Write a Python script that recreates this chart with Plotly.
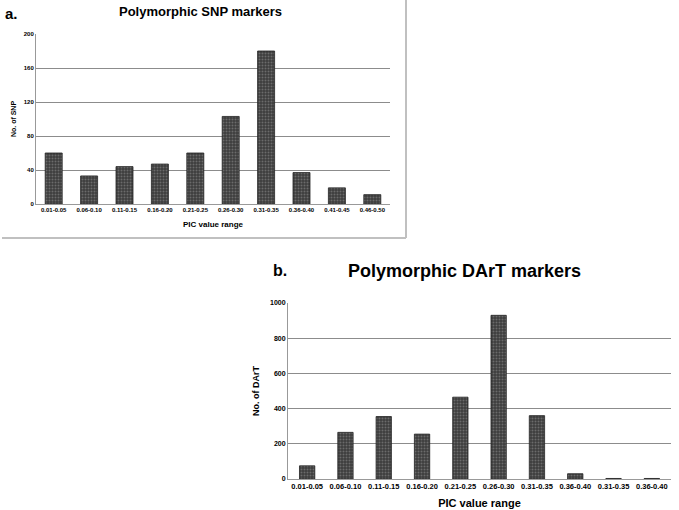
import plotly.graph_objects as go

W, H = 679, 510

snp_labels = ["0.01-0.05", "0.06-0.10", "0.11-0.15", "0.16-0.20", "0.21-0.25",
              "0.26-0.30", "0.31-0.35", "0.36-0.40", "0.41-0.45", "0.46-0.50"]
snp_values = [60, 33, 44, 47, 60, 103, 180, 37, 19, 11]

dart_labels = ["0.01-0.05", "0.06-0.10", "0.11-0.15", "0.16-0.20", "0.21-0.25",
               "0.26-0.30", "0.31-0.35", "0.36-0.40", "0.31-0.35", "0.36-0.40"]
dart_values = [75, 265, 355, 255, 465, 930, 360, 30, 3, 3]

snp_yticks = [0, 40, 80, 120, 160, 200]
dart_yticks = [0, 200, 400, 600, 800, 1000]

FONT = "Liberation Sans"

def px_x(p):
    return p / W

def px_y(p):
    return 1 - p / H

bar_style = dict(
    color="#3c3c3c",
    line=dict(color="#222222", width=0.8),
    pattern=dict(shape=".", fgcolor="#9a9a9a", bgcolor="#3c3c3c", size=3, solidity=0.35),
)

fig = go.Figure()
fig.add_trace(go.Bar(x=list(range(len(snp_values))), y=snp_values, width=0.48,
                     marker=bar_style, xaxis="x", yaxis="y", showlegend=False))
fig.add_trace(go.Bar(x=list(range(len(dart_values))), y=dart_values, width=0.4,
                     marker=bar_style, xaxis="x2", yaxis="y2", showlegend=False))

axis_common = dict(showgrid=False, zeroline=False, ticks="", fixedrange=True, automargin=False)

fig.update_layout(
    width=W, height=H,
    margin=dict(l=0, r=0, t=0, b=0),
    paper_bgcolor="white", plot_bgcolor="white",
    font=dict(family=FONT, color="black"),
    xaxis=dict(domain=[px_x(36), px_x(390)], anchor="y",
               range=[-0.5, len(snp_values) - 0.5],
               tickvals=list(range(len(snp_labels))), ticktext=snp_labels,
               tickfont=dict(size=6, family=FONT, weight="bold", color="black"), tickangle=0,
               showline=True, linecolor="#999999", linewidth=1,
               title=dict(text="<b>PIC value range</b>", font=dict(size=8), standoff=9),
               **axis_common),
    yaxis=dict(domain=[px_y(204), px_y(34)], anchor="x", range=[0, 200],
               tickvals=snp_yticks, tickfont=dict(size=6, family=FONT, weight="bold", color="black"),
               showgrid=True, gridcolor="#8c8c8c", gridwidth=1,
               showline=True, linecolor="#999999", linewidth=1,
               title=dict(text="<b>No. of SNP</b>", font=dict(size=7), standoff=6),
               zeroline=False, ticks="", fixedrange=True, automargin=False),
    xaxis2=dict(domain=[px_x(288), px_x(671)], anchor="y2",
                range=[-0.5, len(dart_values) - 0.5],
                tickvals=list(range(len(dart_labels))), ticktext=dart_labels,
                tickfont=dict(size=7.5, family=FONT, weight="bold", color="black"), tickangle=0,
                showline=True, linecolor="#999999", linewidth=1,
                title=dict(text="<b>PIC value range</b>", font=dict(size=11), standoff=9),
                **axis_common),
    yaxis2=dict(domain=[px_y(479), px_y(303)], anchor="x2", range=[0, 1000],
                tickvals=dart_yticks, tickfont=dict(size=7, family=FONT, weight="bold", color="black"),
                showgrid=True, gridcolor="#8c8c8c", gridwidth=1,
                showline=True, linecolor="#999999", linewidth=1,
                title=dict(text="<b>No. of DArT</b>", font=dict(size=9), standoff=8),
                zeroline=False, ticks="", fixedrange=True, automargin=False),
    bargap=0.5,
)

# panel a frame: right and bottom edges
fig.add_shape(type="line", xref="paper", yref="paper",
              x0=px_x(406), x1=px_x(406), y0=px_y(238), y1=1,
              line=dict(color="#c0c0c0", width=2))
fig.add_shape(type="line", xref="paper", yref="paper",
              x0=px_x(2), x1=px_x(406), y0=px_y(238), y1=px_y(238),
              line=dict(color="#c0c0c0", width=2))

fig.add_annotation(text="<b>Polymorphic SNP markers</b>", xref="paper", yref="paper",
                   x=px_x(200), y=px_y(11), showarrow=False, xanchor="center", yanchor="middle",
                   font=dict(size=13, family=FONT))
fig.add_annotation(text="<b>a.</b>", xref="paper", yref="paper",
                   x=px_x(3), y=px_y(13), showarrow=False, xanchor="left", yanchor="middle",
                   font=dict(size=15, family=FONT))
fig.add_annotation(text="<b>Polymorphic DArT markers</b>", xref="paper", yref="paper",
                   x=px_x(464), y=px_y(271), showarrow=False, xanchor="center", yanchor="middle",
                   font=dict(size=18, family=FONT))
fig.add_annotation(text="<b>b.</b>", xref="paper", yref="paper",
                   x=px_x(271), y=px_y(270), showarrow=False, xanchor="left", yanchor="middle",
                   font=dict(size=16, family=FONT))

fig.write_html("out.html", config={"displayModeBar": False},
               post_script="document.body.style.margin='0px';")
